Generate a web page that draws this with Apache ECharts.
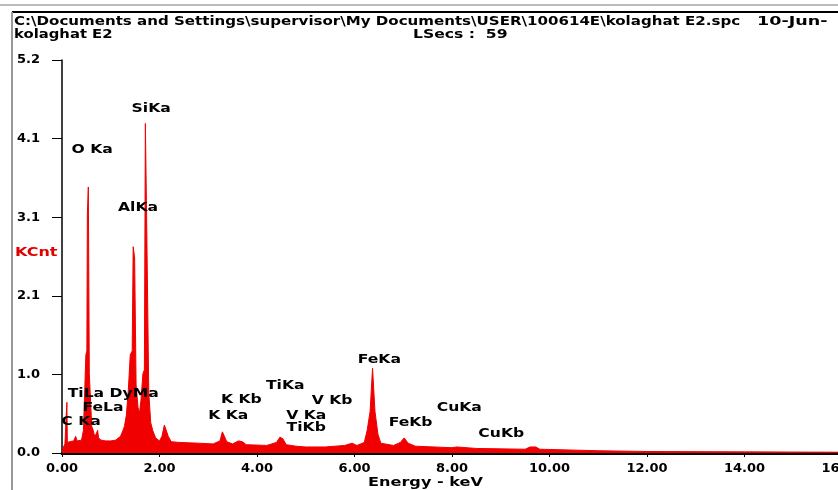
<!DOCTYPE html>
<html><head><meta charset="utf-8">
<script src="https://cdn.jsdelivr.net/npm/echarts@6/dist/echarts.min.js"></script>
<style>html,body{margin:0;padding:0;background:#fff}#c{width:838px;height:490px}</style>
</head><body><div id="c"></div>
<script>
// Spectrum (energy in keV, counts in KCnt)
const energy = [0.00,0.03,0.06,0.09,0.10,0.11,0.16,0.24,0.28,0.31,0.40,0.44,0.47,0.49,0.51,0.52,0.54,0.55,0.56,0.59,0.61,0.64,0.67,0.70,0.73,0.75,0.80,0.90,1.00,1.10,1.20,1.24,1.28,1.32,1.36,1.40,1.44,1.46,1.48,1.49,1.51,1.52,1.56,1.59,1.62,1.66,1.69,1.71,1.73,1.74,1.77,1.78,1.82,1.86,1.92,2.00,2.05,2.10,2.14,2.18,2.24,2.40,2.80,3.10,3.24,3.29,3.33,3.38,3.50,3.62,3.70,3.78,4.20,4.40,4.47,4.53,4.60,4.80,5.00,5.40,5.80,5.95,6.05,6.20,6.26,6.32,6.37,6.42,6.48,6.54,6.80,6.94,7.02,7.10,7.25,8.00,8.10,8.50,9.50,9.60,9.72,9.80,11.0,12.0,14.0,16.0,17.0];
const counts = [0.00,0.08,0.12,0.13,0.67,0.14,0.15,0.16,0.22,0.16,0.17,0.30,0.32,1.30,1.35,3.15,3.52,3.52,1.05,1.05,0.35,0.30,0.22,0.25,0.30,0.20,0.17,0.16,0.16,0.17,0.22,0.28,0.35,0.50,0.83,1.30,1.35,2.73,2.73,2.58,2.58,0.90,0.60,0.53,0.70,1.05,1.10,4.36,4.36,2.91,2.91,0.80,0.40,0.30,0.20,0.16,0.22,0.37,0.37,0.22,0.15,0.14,0.13,0.12,0.16,0.28,0.27,0.15,0.12,0.16,0.15,0.11,0.10,0.14,0.21,0.19,0.11,0.09,0.08,0.08,0.10,0.13,0.10,0.14,0.30,0.55,1.12,0.55,0.25,0.13,0.10,0.14,0.20,0.13,0.09,0.07,0.08,0.06,0.05,0.08,0.08,0.05,0.03,0.02,0.015,0.01,0.01];

// Peak labels (centre of each label, in keV / KCnt)
const peakNames = ['SiKa','O Ka','AlKa','TiLa DyMa','FeLa','C Ka','K Kb','K Ka','TiKa','V Kb','V Ka','TiKb','FeKa','FeKb','CuKa','CuKb'];
const peakX = [1.83,0.62,1.56,1.05,0.84,0.39,3.68,3.41,4.58,5.54,5.01,5.01,6.51,7.15,8.15,9.01];
const peakY = [4.56,4.01,3.25,0.79,0.60,0.41,0.70,0.50,0.89,0.69,0.50,0.33,1.24,0.40,0.60,0.26];

// Axis ticks
const yTickLabels = ['0.0','1.0','2.1','3.1','4.1','5.2'];
const yStep = 1.04, yMax = 5.2;
const xMax = 16, xStep = 2;

const titleLine1 = 'C:\\Documents and Settings\\supervisor\\My Documents\\USER\\100614E\\kolaghat E2.spc';
const titleDate = '10-Jun-';
const titleLine2 = 'kolaghat E2';
const lsecs = 'LSecs :  59';

const FONT = '"DejaVu Sans", sans-serif';
const F13 = 'bold 13px ' + FONT;
function txt(id, s, x, y, sx, fill, align, vAlign) {
  return {type: 'text', id: id, x: x, y: y, scaleX: sx, z: 10,
    style: {text: s, fill: fill || '#000', font: F13, align: align || 'left', verticalAlign: vAlign || 'top'}};
}
const baseGraphic = [
  {type: 'line', id: 'g1', shape: {x1: 0, y1: 5, x2: 838, y2: 5}, style: {stroke: '#bbb', lineWidth: 2}},
  {type: 'line', id: 'g2', shape: {x1: 12, y1: 12, x2: 838, y2: 12}, style: {stroke: '#000', lineWidth: 2}},
  {type: 'line', id: 'g3', shape: {x1: 12, y1: 12, x2: 12, y2: 490}, style: {stroke: '#999', lineWidth: 2}},
  txt('t1', titleLine1, 14, 15, 1.158),
  txt('t2', titleDate, 757, 15, 1.35),
  txt('t3', titleLine2, 14, 28, 1.14),
  txt('t4', lsecs, 413, 28, 1.2),
  txt('t5', 'KCnt', 15, 246, 1.23, '#e00000'),
  txt('t6', 'Energy - keV', 368, 476, 1.24)
];
const chart = echarts.init(document.getElementById('c'));
chart.setOption({
  animation: false,
  backgroundColor: '#fff',
  grid: {left: 62, top: 60, width: 780, height: 393, containLabel: false, outerBoundsMode: 'none'},
  xAxis: {
    type: 'value', min: 0, max: xMax, interval: xStep,
    axisLine: {lineStyle: {color: '#000', width: 3}},
    axisTick: {show: true, length: 4, lineStyle: {color: '#000', width: 1}},
    splitLine: {show: false},
    axisLabel: {color: '#000', fontFamily: FONT, fontWeight: 'bold', fontSize: 13, margin: 9,
      formatter: v => v.toFixed(2)}
  },
  yAxis: {
    type: 'value', min: 0, max: yMax, interval: yStep,
    axisLine: {show: true, lineStyle: {color: '#000', width: 1.5}},
    axisTick: {show: true, length: 10, lineStyle: {color: '#000', width: 1}},
    splitLine: {show: false},
    axisLabel: {color: '#000', fontFamily: FONT, fontWeight: 'bold', fontSize: 13, margin: 22,
      formatter: v => yTickLabels[Math.round(v / yStep)]}
  },
  graphic: baseGraphic,
  series: [
    {
      type: 'line', data: energy.map((e, i) => [e, counts[i]]),
      showSymbol: false, symbol: 'none', smooth: false,
      lineStyle: {color: '#f00000', width: 1},
      areaStyle: {color: '#f00000', opacity: 1},
      z: 2
    }
  ]
});
// peak labels positioned through the chart's own scales
const labelGraphic = peakNames.map((n, i) => {
  const p = chart.convertToPixel({gridIndex: 0}, [peakX[i], peakY[i]]);
  return txt('p' + i, n, p[0], p[1], 1.2, '#000', 'center', 'middle');
});
chart.setOption({graphic: baseGraphic.concat(labelGraphic)});
</script></body></html>
